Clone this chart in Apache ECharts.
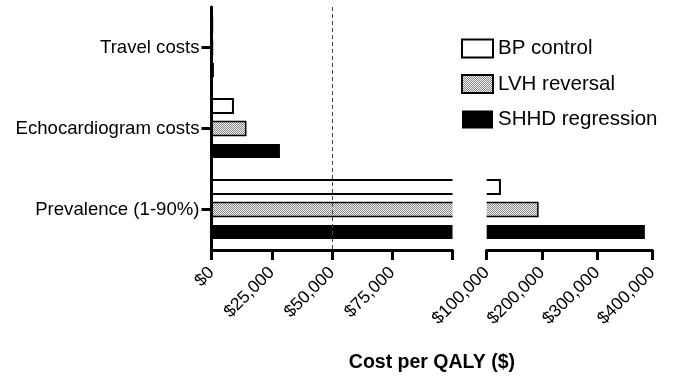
<!DOCTYPE html>
<html><head><meta charset="utf-8">
<script src="https://cdn.jsdelivr.net/npm/echarts@6/dist/echarts.min.js"></script>
<style>html,body{margin:0;padding:0;background:#fff}#c{width:673px;height:378px}</style>
</head><body><div id="c"></div>
<script>
// ---- data ----
const categories = ['Travel costs', 'Echocardiogram costs', 'Prevalence (1-90%)'];
const seriesNames = ['BP control', 'LVH reversal', 'SHHD regression'];
const bpControl = [300, 8900, 124000];
const lvhReversal = [400, 14200, 192700];
const shhdRegression = [1000, 28400, 386500];
const leftRange = [0, 100000];
const leftInterval = 25000;
const rightRange = [100000, 400000];
const rightInterval = 100000;
const thresholdValue = 50000;
const axisTitle = 'Cost per QALY ($)';

// ---- styles ----
const FONT = 'Liberation Sans, Arial, Helvetica, sans-serif';
function stipple() {
  const c = document.createElement('canvas');
  c.width = 2; c.height = 2;
  const g = c.getContext('2d');
  g.fillStyle = '#f2f2f2'; g.fillRect(0, 0, 2, 2);
  g.fillStyle = '#888888'; g.fillRect(0, 0, 1, 1); g.fillRect(1, 1, 1, 1);
  return { image: c, repeat: 'repeat' };
}
const pattern = stipple();
const barStyles = [
  { fill: '#ffffff', stroke: '#000', lineWidth: 2 },
  { fill: pattern, stroke: '#000', lineWidth: 1.5 },
  { fill: '#000000', stroke: null, lineWidth: 0 }
];
const BAR_RATIO = 0.175;   // bar thickness as share of category band
const SLOT_RATIO = 0.278;  // distance between bar centres as share of band

function barRenderer(lo, hi, slot) {
  const st = barStyles[slot];
  return function (params, api) {
    const val = api.value(0), cat = api.value(1);
    if (!(val > lo)) return null;
    const band = api.size([0, 1])[1];
    const c0 = api.coord([lo, cat]);
    const c1 = api.coord([Math.min(val, hi), cat]);
    const h = band * BAR_RATIO;
    const yc = c0[1] + (slot - 1) * band * SLOT_RATIO;
    const top = yc - h / 2, bot = yc + h / 2;
    const children = [{
      type: 'rect',
      shape: { x: c0[0], y: top, width: c1[0] - c0[0], height: h },
      style: { fill: st.fill, stroke: null }
    }];
    if (st.stroke) {
      const ls = { stroke: st.stroke, lineWidth: st.lineWidth, fill: null };
      if (val > hi) {
        children.push({ type: 'polyline', shape: { points: [[c0[0], top], [c1[0], top]] }, style: ls });
        children.push({ type: 'polyline', shape: { points: [[c0[0], bot], [c1[0], bot]] }, style: ls });
      } else {
        children.push({ type: 'polyline', shape: { points: [[c0[0], top], [c1[0], top], [c1[0], bot], [c0[0], bot]] }, style: ls });
      }
    }
    return { type: 'group', children: children };
  };
}

const allValues = [bpControl, lvhReversal, shhdRegression];
const legendItemStyles = [
  { color: '#ffffff', borderColor: '#000', borderWidth: 2 },
  { color: pattern, borderColor: '#000', borderWidth: 1.5 },
  { color: '#000000', borderColor: '#000', borderWidth: 0 }
];

const money = v => '$' + v.toLocaleString('en-US');
const axisLineStyle = { color: '#000', width: 3 };

const series = [];
[[0, leftRange], [1, rightRange]].forEach(([g, range]) => {
  allValues.forEach((vals, s) => {
    const ser = {
      type: 'custom',
      name: seriesNames[s],
      xAxisIndex: g, yAxisIndex: g,
      data: vals.map((v, i) => [v, i]),
      encode: { x: 0, y: 1 },
      itemStyle: legendItemStyles[s],
      renderItem: barRenderer(range[0], range[1], s),
      silent: true
    };
    if (g === 0 && s === 0) {
      ser.markLine = {
        silent: true, symbol: 'none', label: { show: false },
        lineStyle: { type: [4, 3], color: '#444', width: 1 },
        data: [{ xAxis: thresholdValue }]
      };
    }
    series.push(ser);
  });
});

const xLabel = { rotate: 45, fontSize: 17.5, color: '#000', margin: 20, fontFamily: FONT };

const chart = echarts.init(document.getElementById('c'), null, { renderer: 'canvas' });
chart.setOption({
  animation: false,
  backgroundColor: '#fff',
  textStyle: { fontFamily: FONT },
  grid: [
    { left: 211.5, top: 7, width: 241, height: 243, outerBoundsMode: 'none' },
    { left: 486.7, top: 7, width: 165.6, height: 243, outerBoundsMode: 'none' },
    { left: 211.5, top: 7, width: 440.8, height: 243, outerBoundsMode: 'none' }
  ],
  legend: {
    data: seriesNames,
    orient: 'vertical', left: 461, top: 38, padding: 0,
    icon: 'rect', itemWidth: 31, itemHeight: 18, itemGap: 14.5,
    textStyle: { fontSize: 20.5, color: '#000', fontFamily: FONT },
    selectedMode: false
  },
  xAxis: [
    {
      gridIndex: 0, type: 'value', min: leftRange[0], max: leftRange[1], interval: leftInterval,
      axisLine: { show: true, lineStyle: axisLineStyle },
      axisTick: { show: true, length: 10, lineStyle: axisLineStyle },
      axisLabel: Object.assign({}, xLabel, { formatter: v => (v === leftRange[1] ? '' : money(v)) }),
      splitLine: { show: false }
    },
    {
      gridIndex: 1, type: 'value', min: rightRange[0], max: rightRange[1], interval: rightInterval,
      axisLine: { show: true, lineStyle: axisLineStyle },
      axisTick: { show: true, length: 10, lineStyle: axisLineStyle },
      axisLabel: Object.assign({}, xLabel, { formatter: money }),
      splitLine: { show: false }
    },
    {
      gridIndex: 2, type: 'value', min: 0, max: 1,
      axisLine: { show: false }, axisTick: { show: false }, axisLabel: { show: false },
      splitLine: { show: false },
      name: axisTitle, nameLocation: 'middle', nameGap: 103,
      nameTextStyle: { fontSize: 19.5, fontWeight: 'bold', color: '#000', fontFamily: FONT }
    }
  ],
  yAxis: [
    {
      gridIndex: 0, type: 'category', data: categories, inverse: true, z: 10,
      axisLine: { show: true, lineStyle: axisLineStyle },
      axisTick: { show: true, alignWithLabel: true, length: 10, lineStyle: axisLineStyle },
      axisLabel: { fontSize: 18.6, color: '#000', margin: 12, fontFamily: FONT },
      splitLine: { show: false }
    },
    { gridIndex: 1, type: 'category', data: categories, inverse: true, show: false },
    { gridIndex: 2, type: 'category', data: categories, inverse: true, show: false }
  ],
  series: series
});
</script>
</body></html>
